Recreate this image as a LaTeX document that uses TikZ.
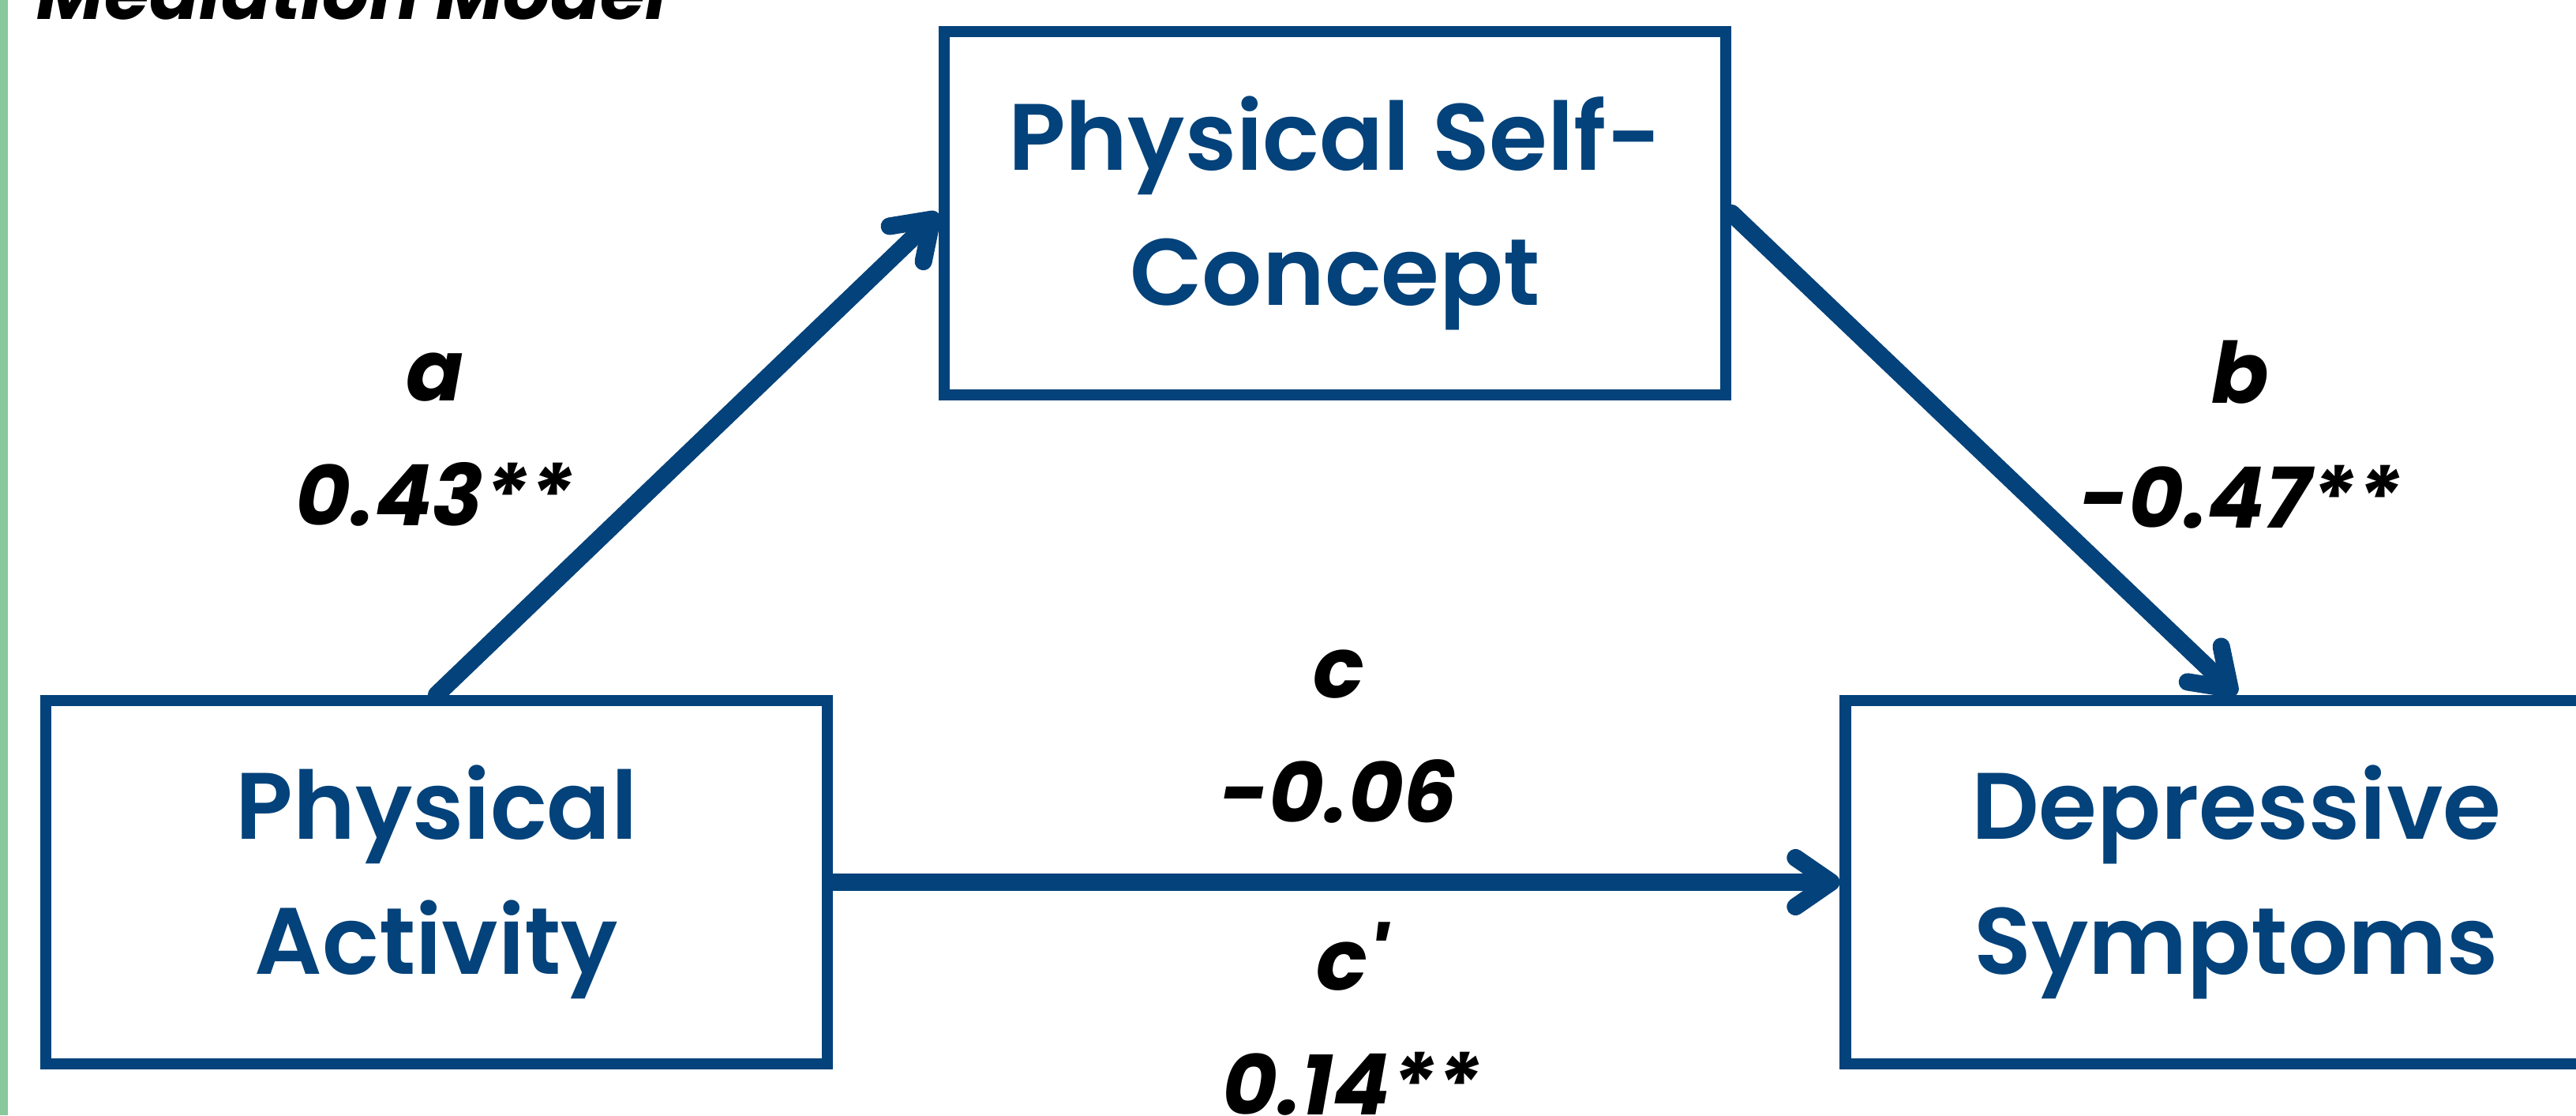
\documentclass[tikz,border=0pt]{standalone}
\usepackage{fontspec}
\setmainfont{Poppins}
\newfontfamily\boxfont{Poppins SemiBold}
\usepackage{xcolor}
\usetikzlibrary{arrows.meta,positioning}
\definecolor{pathblue}{HTML}{03427A}
\definecolor{bargreen}{HTML}{88C89A}

\begin{document}
\begin{tikzpicture}[
  box/.style={rectangle, draw=pathblue, line width=4.2pt, fill=white,
              minimum width=9.9cm, minimum height=4.6cm,
              text=pathblue, align=center,
              font=\fontsize{34}{48.5}\boxfont},
  coef/.style={align=center, inner sep=0pt,
               font=\fontsize{30.5}{45}\selectfont\bfseries\itshape},
  path/.style={draw=pathblue, line width=6.3pt, line cap=round,
               -{Straight Barb[length=0.45cm, width=0.62cm, round]}},
]
  \useasboundingbox (0,0) rectangle (32.63,-14.12);
  \fill[bargreen] (0,0) rectangle (0.10,-14.12);

  % Title (cut at the top)
  \node[anchor=base west, inner sep=0pt,
        font=\fontsize{26.5}{30}\selectfont\bfseries\itshape] (title)
        at (0.46,-0.25) {Mediation Model};

  % Blocks
  \node[box] (self) at (16.91,-2.70) {Physical Self-\\Concept};
  \node[box] (act)  at (5.53,-11.17) {Physical\\Activity};
  \node[box, right=12.75cm of act] (dep) {Depressive\\Symptoms};

  % Paths
  \draw[path] (act.north) -- (self.west);
  \draw[path] (self.east) -- (dep.north);
  \draw[path] (act.east)  -- (dep.west);

  % Coefficients
  \node[coef] (coefa)  at (5.51,-5.57)  {a\\0.43**};
  \node[coef] (coefb)  at (28.38,-5.50) {b\\-0.47**};
  \node[coef] (coefc)  at (16.96,-9.33) {c\\-0.06};
  \node[coef] (coefcp) at (17.12,-12.90) {c\textquotesingle\\0.14**};
\end{tikzpicture}
\end{document}
